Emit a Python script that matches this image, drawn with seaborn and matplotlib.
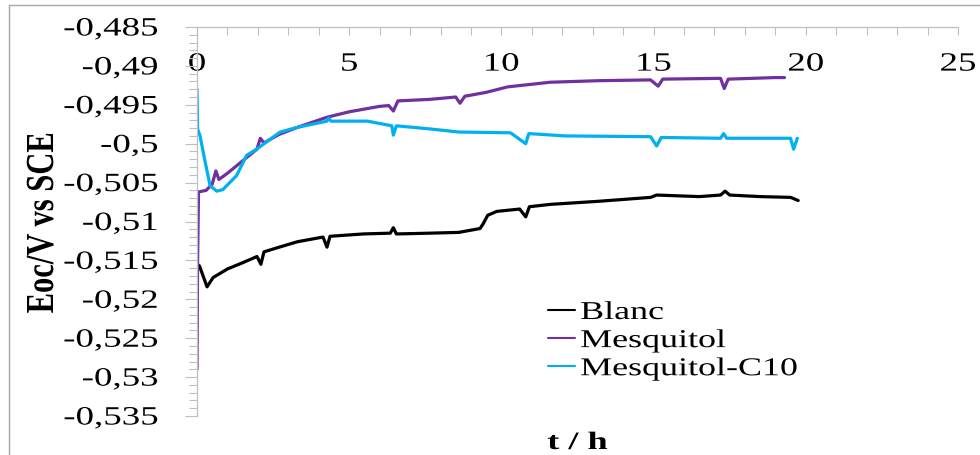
import matplotlib
matplotlib.use("Agg")
import matplotlib.pyplot as plt
import numpy as np
import pandas as pd
import seaborn as sns
from matplotlib.patheffects import AbstractPathEffect
from matplotlib.transforms import Affine2D
from matplotlib.ticker import FixedLocator, FixedFormatter, MultipleLocator
from matplotlib.lines import Line2D

# ---------------- data ----------------
series = ["Blanc", "Mesquitol", "Mesquitol-C10"]
colors = ["#000000", "#7030A0", "#00B0F0"]

t_blanc = [0, 0.08, 0.33, 0.53, 1.0, 1.5, 1.97, 2.1, 2.2, 2.7, 3.3, 4.14, 4.27, 4.37,
           5.46, 6.35, 6.45, 6.55, 7.65, 8.6, 9.3, 9.4, 9.55, 9.85, 10.6, 10.8, 10.92,
           11.6, 13.2, 14.9, 15.1, 16.5, 17.2, 17.35, 17.5, 18.5, 19.5, 19.75]
v_blanc = [-0.5155, -0.5157, -0.5184, -0.5172, -0.5161, -0.5153, -0.5145, -0.5155, -0.5139,
           -0.5133, -0.5126, -0.5120, -0.5133, -0.5119, -0.5116, -0.5115, -0.5108, -0.5116,
           -0.5115, -0.5114, -0.5109, -0.5103, -0.5092, -0.5087, -0.5084, -0.5094, -0.5081,
           -0.5078, -0.5074, -0.5069, -0.5066, -0.5068, -0.5066, -0.5061, -0.5066, -0.5068,
           -0.5069, -0.5073]

t_mesq = [0, 0.02, 0.05, 0.3, 0.5, 0.62, 0.72, 1.0, 1.5, 1.97, 2.08, 2.2, 2.7, 3.3, 4.27,
          5.0, 6.0, 6.3, 6.45, 6.6, 7.65, 8.5, 8.64, 8.8, 9.5, 10.2, 11.6, 13.2, 14.9,
          15.15, 15.3, 17.2, 17.32, 17.45, 19.0, 19.3]
v_mesq = [-0.5290, -0.5150, -0.5062, -0.5060, -0.5052, -0.5035, -0.5046, -0.5038, -0.5022,
          -0.5007, -0.4993, -0.4999, -0.4988, -0.4979, -0.4966, -0.4959, -0.4952, -0.4951,
          -0.4958, -0.4945, -0.4943, -0.4940, -0.4948, -0.4939, -0.4934, -0.4927, -0.4921,
          -0.4919, -0.4918, -0.4926, -0.4917, -0.4916, -0.4929, -0.4917, -0.4915, -0.4915]

t_c10 = [0, 0.02, 0.1, 0.25, 0.43, 0.65, 0.85, 1.3, 1.63, 1.96, 2.73, 3.3, 4.27, 4.32, 4.4,
         5.6, 6.4, 6.45, 6.55, 7.65, 8.6, 10.3, 10.8, 10.9, 12.1, 14.9, 15.1, 15.25, 17.2,
         17.3, 17.4, 19.5, 19.6, 19.72]
v_c10 = [-0.4930, -0.4981, -0.4990, -0.5020, -0.5054, -0.5061, -0.5059, -0.5041, -0.5015,
         -0.5007, -0.4985, -0.4979, -0.4971, -0.4967, -0.4971, -0.4971, -0.4977, -0.4989,
         -0.4977, -0.4981, -0.4985, -0.4986, -0.5000, -0.4987, -0.4990, -0.4991, -0.5003,
         -0.4992, -0.4993, -0.4987, -0.4993, -0.4993, -0.5007, -0.4993]

xtick_vals = [0, 5, 10, 15, 20, 25]
xtick_labels = ["0", "5", "10", "15", "20", "25"]
ytick_vals = [-0.485, -0.49, -0.495, -0.5, -0.505, -0.51, -0.515, -0.52, -0.525, -0.53, -0.535]
ytick_labels = ["-0,485", "-0,49", "-0,495", "-0,5", "-0,505", "-0,51", "-0,515",
                "-0,52", "-0,525", "-0,53", "-0,535"]
x_label = "t / h"
y_label = "Eoc/V vs SCE"


# ------------- helper: horizontally stretched glyphs (text stays text) -------------
class StretchText(AbstractPathEffect):
    def __init__(self, sx=1.0, sy=1.0, anchor="left"):
        super().__init__(offset=(0, 0))
        self.sx, self.sy, self.anchor = sx, sy, anchor

    def draw_path(self, renderer, gc, tpath, affine, rgbFace=None):
        ext = tpath.get_extents()
        if self.anchor == "right":
            x0 = ext.x1
        elif self.anchor == "center":
            x0 = 0.5 * (ext.x0 + ext.x1)
        else:
            x0 = 0.0
        pre = Affine2D().translate(-x0, 0).scale(self.sx, self.sy).translate(x0, 0)
        renderer.draw_path(gc, tpath, pre + affine, rgbFace)


sns.set_theme(style="white")
plt.rcParams["font.family"] = ["Liberation Serif", "DejaVu Serif"]

W, H = 980, 456
fig = plt.figure(figsize=(W / 100, H / 100), dpi=100)
fig.patch.set_facecolor("white")
ax = fig.add_axes([197 / W, 39 / H, 761 / W, 389 / H])

df = pd.concat([
    pd.DataFrame({"t": t_blanc, "E": v_blanc, "serie": series[0]}),
    pd.DataFrame({"t": t_mesq, "E": v_mesq, "serie": series[1]}),
    pd.DataFrame({"t": t_c10, "E": v_c10, "serie": series[2]}),
], ignore_index=True)

sns.lineplot(data=df, x="t", y="E", hue="serie", hue_order=series,
             palette=dict(zip(series, colors)), sort=False, estimator=None,
             linewidth=2.3, ax=ax, legend=False)

GRID = "#BFBFBF"
ax.set_xlim(0, 25)
ax.set_ylim(-0.535, -0.485)
ax.xaxis.set_major_locator(FixedLocator(xtick_vals))
ax.xaxis.set_major_formatter(FixedFormatter(xtick_labels))
ax.xaxis.set_minor_locator(MultipleLocator(1))
ax.yaxis.set_major_locator(FixedLocator(ytick_vals))
ax.yaxis.set_major_formatter(FixedFormatter(ytick_labels))
ax.yaxis.set_minor_locator(MultipleLocator(0.001))

ax.xaxis.tick_top()
ax.tick_params(axis="x", which="both", direction="in", length=5.5, width=0.8, color=GRID,
               top=True, bottom=False, labeltop=True, labelbottom=False,
               pad=-35, labelsize=19, labelcolor="black")
ax.tick_params(axis="y", which="major", direction="out", length=8.6, width=0.8, color=GRID,
               left=True, right=False, labelsize=19, pad=19.5, labelcolor="black")
ax.tick_params(axis="y", which="minor", direction="out", length=5.8, width=0.8, color=GRID,
               left=True, right=False)

for side in ["right", "bottom"]:
    ax.spines[side].set_visible(False)
for side in ["left", "top"]:
    ax.spines[side].set_color(GRID)
    ax.spines[side].set_linewidth(0.9)

ax.set_xlabel(x_label, fontsize=18, fontweight="bold", color="black")
ax.xaxis.set_label_position("bottom")
ax.xaxis.set_label_coords(0.5, (6 - 39) / 389)
ax.xaxis.label.set_va("baseline")
ax.xaxis.label.set_path_effects([StretchText(sx=1.45, anchor="center")])

ax.set_ylabel(y_label, fontsize=22, fontweight="bold", color="black")
ax.yaxis.set_label_coords((53 - 197) / 761, (456 - 224 - 39) / 389)
ax.yaxis.label.set_va("baseline")
ax.yaxis.label.set_path_effects([StretchText(sy=1.3, anchor="center")])

handles = [Line2D([], [], color=c, lw=1.5) for c in colors]
leg = ax.legend(handles, series, loc="upper left",
                bbox_to_anchor=(548 / W, 1 - 302 / H), bbox_transform=fig.transFigure,
                frameon=False, fontsize=18.5, handlelength=1.05, handletextpad=0.2,
                labelspacing=0.2, borderpad=0, borderaxespad=0, labelcolor="black")
for txt in leg.get_texts():
    txt.set_path_effects([StretchText(sx=1.4, anchor="left")])

# outer chart-area border (top & left visible in the reference crop)
fig.add_artist(Line2D([9 / W, 9 / W], [0, 1 - 6 / H], transform=fig.transFigure,
                      color="#A6A6A6", lw=1.0))
fig.add_artist(Line2D([9 / W, 1], [1 - 6 / H, 1 - 6 / H], transform=fig.transFigure,
                      color="#A6A6A6", lw=1.0))

fig.canvas.draw()
for lbl in ax.get_xticklabels():
    lbl.set_path_effects([StretchText(sx=1.4, anchor="center")])
for lbl in ax.get_yticklabels():
    lbl.set_path_effects([StretchText(sx=1.4, anchor="right")])

fig.savefig("out.png", dpi=100, facecolor="white")
